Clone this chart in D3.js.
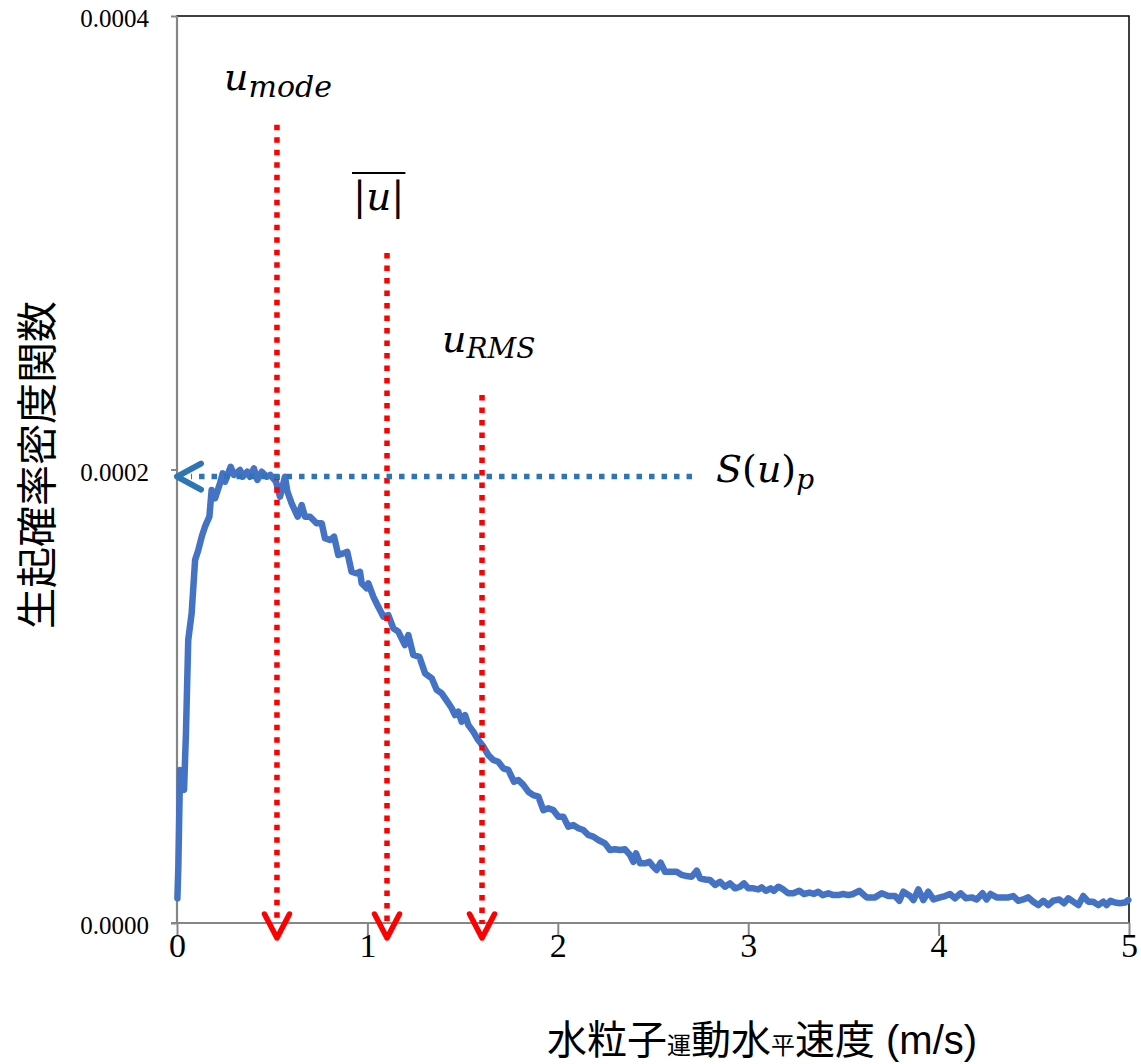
<!DOCTYPE html>
<html>
<head>
	<meta charset="utf-8">
	<title>生起確率密度関数</title>
	<script src="https://d3js.org/d3.v7.min.js"></script>
	<style>
		body{
			margin: 0;
			background: #fff;
		}
		svg{
			display: block;
		}
		.tickLabel{
			font-family: "Liberation Serif", "Times New Roman", serif;
			fill: #000;
		}
		.axisTitle{
			font-family: "Liberation Sans", "Noto Sans CJK JP", sans-serif;
			fill: #000;
		}
		.mathLabel{
			font-family: "DejaVu Serif", serif;
			font-style: italic;
			fill: #000;
		}
	</style>
</head>
<body>
	<script>
		// horizontal particle speed (m/s) and its probability density (x 1e-4)
		const speedMs = [
			0.002, 0.007, 0.016, 0.037, 0.047, 0.059, 0.077, 0.095, 0.112, 0.130,
			0.147, 0.170, 0.182, 0.200, 0.226, 0.240, 0.252, 0.282, 0.299, 0.331,
			0.345, 0.369, 0.383, 0.404, 0.422, 0.445, 0.471, 0.490, 0.520, 0.541,
			0.567, 0.580, 0.602, 0.634, 0.655, 0.672, 0.699, 0.733, 0.760, 0.777,
			0.804, 0.825, 0.847, 0.873, 0.894, 0.917, 0.944, 0.961, 0.970, 0.979,
			0.996, 1.005, 1.031, 1.057, 1.084, 1.110, 1.136, 1.162, 1.197, 1.215,
			1.241, 1.273, 1.303, 1.338, 1.364, 1.390, 1.420, 1.443, 1.460, 1.477,
			1.495, 1.513, 1.530, 1.556, 1.582, 1.609, 1.635, 1.661, 1.687, 1.714,
			1.740, 1.770, 1.793, 1.819, 1.845, 1.871, 1.898, 1.924, 1.950, 1.976,
			2.003, 2.029, 2.055, 2.081, 2.108, 2.134, 2.160, 2.186, 2.213, 2.248,
			2.274, 2.300, 2.327, 2.353, 2.379, 2.397, 2.411, 2.432, 2.458, 2.481,
			2.502, 2.519, 2.540, 2.563, 2.589, 2.624, 2.651, 2.677, 2.703, 2.730,
			2.747, 2.773, 2.799, 2.826, 2.852, 2.878, 2.904, 2.931, 2.957, 2.978,
			3.001, 3.027, 3.053, 3.071, 3.093, 3.118, 3.135, 3.158, 3.184, 3.210,
			3.237, 3.268, 3.293, 3.321, 3.346, 3.368, 3.391, 3.421, 3.447, 3.473,
			3.499, 3.526, 3.552, 3.583, 3.622, 3.666, 3.701, 3.736, 3.771, 3.794,
			3.815, 3.850, 3.868, 3.894, 3.920, 3.946, 3.973, 4.008, 4.034, 4.060,
			4.086, 4.116, 4.144, 4.174, 4.200, 4.231, 4.252, 4.273, 4.305, 4.331,
			4.366, 4.392, 4.418, 4.445, 4.471, 4.497, 4.524, 4.550, 4.576, 4.602,
			4.634, 4.659, 4.681, 4.707, 4.734, 4.760, 4.786, 4.812, 4.839, 4.865,
			4.882, 4.903, 4.926, 4.952, 4.979, 4.996
		]
		const densityE4 = [
			0.109, 0.248, 0.675, 0.587, 0.837, 1.248, 1.366, 1.601, 1.645, 1.704,
			1.748, 1.792, 1.910, 1.873, 1.939, 1.983, 1.946, 2.012, 1.976, 1.998,
			1.968, 1.990, 1.968, 2.005, 1.954, 1.990, 1.968, 1.976, 1.946, 1.880,
			1.968, 1.902, 1.851, 1.792, 1.843, 1.792, 1.792, 1.763, 1.763, 1.697,
			1.689, 1.704, 1.623, 1.630, 1.637, 1.549, 1.542, 1.549, 1.498, 1.491,
			1.476, 1.498, 1.439, 1.395, 1.351, 1.358, 1.300, 1.285, 1.226, 1.270,
			1.182, 1.174, 1.101, 1.079, 1.028, 1.013, 0.976, 0.947, 0.917, 0.932,
			0.888, 0.917, 0.873, 0.844, 0.807, 0.778, 0.741, 0.719, 0.711, 0.682,
			0.675, 0.623, 0.631, 0.609, 0.579, 0.564, 0.557, 0.498, 0.506, 0.498,
			0.469, 0.469, 0.425, 0.432, 0.418, 0.410, 0.388, 0.381, 0.366, 0.351,
			0.322, 0.325, 0.322, 0.325, 0.300, 0.270, 0.307, 0.263, 0.263, 0.270,
			0.248, 0.234, 0.266, 0.226, 0.226, 0.226, 0.212, 0.207, 0.204, 0.231,
			0.197, 0.192, 0.190, 0.168, 0.182, 0.160, 0.175, 0.153, 0.160, 0.175,
			0.153, 0.153, 0.148, 0.157, 0.142, 0.153, 0.142, 0.160, 0.148, 0.131,
			0.131, 0.142, 0.128, 0.134, 0.128, 0.138, 0.123, 0.131, 0.123, 0.123,
			0.128, 0.123, 0.128, 0.142, 0.113, 0.113, 0.131, 0.119, 0.119, 0.098,
			0.138, 0.119, 0.101, 0.148, 0.101, 0.138, 0.104, 0.113, 0.119, 0.128,
			0.109, 0.131, 0.109, 0.113, 0.104, 0.131, 0.104, 0.128, 0.113, 0.113,
			0.113, 0.119, 0.098, 0.104, 0.113, 0.094, 0.079, 0.098, 0.079, 0.098,
			0.104, 0.087, 0.109, 0.094, 0.079, 0.119, 0.094, 0.094, 0.079, 0.094,
			0.079, 0.098, 0.090, 0.087, 0.090, 0.101
		]

		// characteristic speeds: mode, mean of |u|, RMS, and where their arrows start
		const markerKeys = ['mode', 'mean', 'rms']
		const markerSpeeds = [0.525, 1.103, 1.602]
		const markerTopsE4 = [3.52, 2.955, 2.329]

		// peak density S(u)p and the speed where its arrow line ends
		const peakDensityE4 = 1.969
		const peakLineEndSpeed = 2.705

		const xTicks = [0, 1, 2, 3, 4, 5]
		const yTicks = [0, 0.0002, 0.0004]

		var margin = {
			top: 16,
			right: 12,
			bottom: 141,
			left: 177
		}
		var width = 1141 - margin.left - margin.right
		var height = 1064 - margin.top - margin.bottom

		const svg = d3.select('body').append('svg')
					  .attr('width', 1141)
					  .attr('height', 1064)
		const g = svg.append('g')
					 .attr('transform', 'translate(' + margin.left + ',' + margin.top + ')')

		const xScale = d3.scaleLinear().domain([0, 5]).range([0, width])
		const yScale = d3.scaleLinear().domain([0, 0.0004]).range([height, 0])

		// plot area frame (top/right show black, the axes cover left/bottom)
		g.append('rect')
		 .attr('x', 0)
		 .attr('y', 0)
		 .attr('width', width)
		 .attr('height', height)
		 .attr('fill', 'none')
		 .attr('stroke', '#000')
		 .attr('stroke-width', 1.5)

		const xAxis = d3.axisBottom(xScale).tickValues(xTicks).tickSize(13).tickFormat(d3.format('d'))
		const yAxis = d3.axisLeft(yScale).tickValues(yTicks).tickSize(6).tickFormat(d3.format('.4f'))

		const gx = g.append('g')
					.attr('transform', 'translate(0,' + height + ')')
					.call(xAxis)
		const gy = g.append('g').call(yAxis)

		;[gx, gy].forEach(function(ax){
			ax.attr('font-family', null).attr('font-size', null)
			ax.select('.domain').attr('stroke', '#868686').attr('stroke-width', 2.2)
			ax.selectAll('.tick line').attr('stroke', '#868686').attr('stroke-width', 2)
			ax.selectAll('.tick text').attr('class', 'tickLabel').attr('fill', '#000')
		})
		gx.select('.domain').attr('d', 'M-6,0H' + width)
		gx.selectAll('.tick text')
		  .attr('y', 10)
		  .attr('dy', '0.71em')
		  .style('font-size', '34px')
		gy.select('.domain').attr('d', 'M0,' + height + 'V0')
		gy.selectAll('.tick text')
		  .attr('x', -28)
		  .attr('dy', '0.42em')
		  .style('font-size', '25px')

		// density curve
		const points = speedMs.map((s, i) => [s, densityE4[i] * 1e-4])
		const line = d3.line()
					   .x(d => xScale(d[0]))
					   .y(d => yScale(d[1]))
		g.append('path')
		 .datum(points)
		 .attr('d', line)
		 .attr('fill', 'none')
		 .attr('stroke', '#4472C4')
		 .attr('stroke-width', 6.5)
		 .attr('stroke-linejoin', 'round')
		 .attr('stroke-linecap', 'round')

		// red dotted arrows down to the speed axis
		const arrows = g.append('g')
		markerKeys.forEach(function(key, i){
			const x = xScale(markerSpeeds[i])
			const tip = yScale(0) + 15
			arrows.append('line')
				  .attr('class', 'marker-' + key)
				  .attr('x1', x)
				  .attr('x2', x)
				  .attr('y1', yScale(markerTopsE4[i] * 1e-4))
				  .attr('y2', tip - 14)
				  .attr('stroke', '#FF0000')
				  .attr('stroke-width', 5.5)
				  .attr('stroke-dasharray', '5.5 7')
			arrows.append('path')
				  .attr('d', 'M' + (x - 12.5) + ',' + (tip - 24) + 'L' + x + ',' + tip + 'L' + (x + 12.5) + ',' + (tip - 24))
				  .attr('fill', 'none')
				  .attr('stroke', '#FF0000')
				  .attr('stroke-width', 5.5)
				  .attr('stroke-linecap', 'round')
				  .attr('stroke-linejoin', 'round')
		})

		// blue dotted arrow pointing at the peak density on the y axis
		const py = yScale(peakDensityE4 * 1e-4)
		const px = xScale(0)
		g.append('line')
		 .attr('x1', xScale(peakLineEndSpeed))
		 .attr('x2', px + 14)
		 .attr('y1', py)
		 .attr('y2', py)
		 .attr('stroke', '#2E75B6')
		 .attr('stroke-width', 5.5)
		 .attr('stroke-dasharray', '5.5 7')
		g.append('path')
		 .attr('d', 'M' + (px + 24) + ',' + (py - 13) + 'L' + px + ',' + py + 'L' + (px + 24) + ',' + (py + 13))
		 .attr('fill', 'none')
		 .attr('stroke', '#2E75B6')
		 .attr('stroke-width', 6)
		 .attr('stroke-linecap', 'round')
		 .attr('stroke-linejoin', 'round')

		// math labels
		const uMode = svg.append('text')
						 .attr('class', 'mathLabel')
						 .attr('x', 224)
						 .attr('y', 90)
						 .style('font-size', '38px')
		uMode.append('tspan').text('u')
		uMode.append('tspan').attr('dy', 7).style('font-size', '30px').text('mode')

		const uMean = svg.append('text')
						 .attr('class', 'mathLabel')
						 .attr('x', 353)
						 .attr('y', 210)
						 .style('font-size', '39px')
		uMean.append('tspan').style('font-style', 'normal').text('|')
		uMean.append('tspan').text('u')
		uMean.append('tspan').style('font-style', 'normal').text('|')
		const mb = uMean.node().getBBox()
		svg.append('line')
		   .attr('x1', mb.x - 1)
		   .attr('x2', mb.x + mb.width + 1)
		   .attr('y1', 173)
		   .attr('y2', 173)
		   .attr('stroke', '#000')
		   .attr('stroke-width', 2)

		const uRms = svg.append('text')
						.attr('class', 'mathLabel')
						.attr('x', 442)
						.attr('y', 352)
						.style('font-size', '38px')
		uRms.append('tspan').text('u')
		uRms.append('tspan').attr('dy', 6).style('font-size', '28px').text('RMS')

		const sPeak = svg.append('text')
						 .attr('class', 'mathLabel')
						 .attr('x', 716)
						 .attr('y', 482)
						 .style('font-size', '38px')
		sPeak.append('tspan').text('S')
		sPeak.append('tspan').style('font-style', 'normal').text('(')
		sPeak.append('tspan').text('u')
		sPeak.append('tspan').style('font-style', 'normal').text(')')
		sPeak.append('tspan').attr('dy', 7).style('font-size', '28px').text('p')

		// axis titles
		const xTitle = svg.append('text')
						  .attr('class', 'axisTitle')
						  .attr('x', 762)
						  .attr('y', 1054)
						  .attr('text-anchor', 'middle')
						  .style('font-size', '40px')
		xTitle.append('tspan').text('水粒子')
		xTitle.append('tspan').style('font-size', '24px').text('運')
		xTitle.append('tspan').text('動水')
		xTitle.append('tspan').style('font-size', '24px').text('平')
		xTitle.append('tspan').text('速度 (m/s)')

		svg.append('text')
		   .attr('class', 'axisTitle')
		   .attr('transform', 'translate(38,' + 465 + ') rotate(-90)')
		   .attr('text-anchor', 'middle')
		   .attr('dominant-baseline', 'central')
		   .style('font-size', '41px')
		   .text('生起確率密度関数')
	</script>
</body>
</html>
